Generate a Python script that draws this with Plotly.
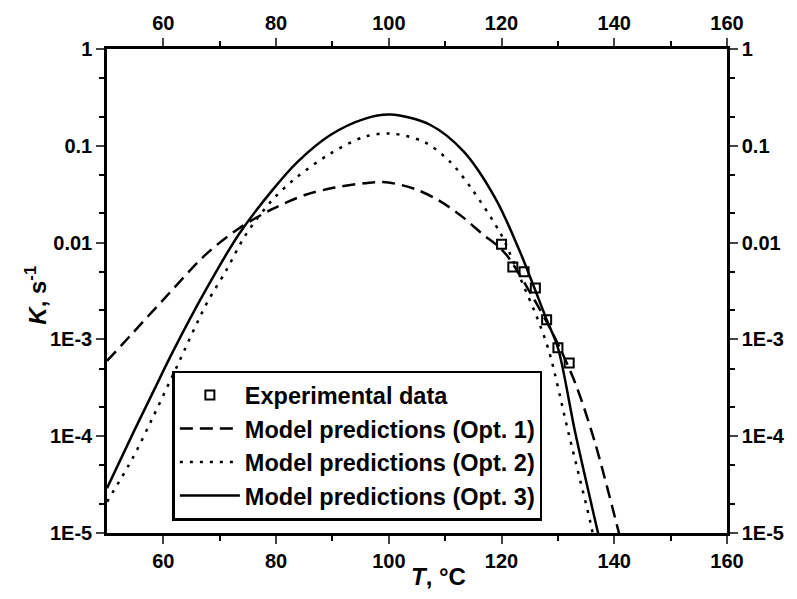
import plotly.graph_objects as go

# ---- data ----
T_exp = [120, 122, 124, 126, 128, 130, 132]
K_exp = [9.6e-3, 5.6e-3, 5.0e-3, 3.4e-3, 1.6e-3, 8.2e-4, 5.7e-4]

T_opt1 = [50, 54.6, 59.8, 67.6, 73.4, 79.2, 85.1, 90.4, 95.7, 99.5, 104.5, 109, 113.3, 116.8,
          119, 121, 125, 129.1, 133.1, 136.6, 140.7, 141.5]
K_opt1 = [6.0e-4, 1.17e-3, 2.5e-3, 7.6e-3, 0.014, 0.022, 0.031, 0.037, 0.041, 0.042, 0.036,
          0.027, 0.018, 0.012, 9.6e-3, 7.3e-3, 3.1e-3, 1.15e-3, 3.5e-4, 8.5e-5, 1.07e-5, 7e-6]

T_opt2 = [50, 54.6, 58.1, 62.3, 67.6, 71.1, 74.6, 79.2, 83.4, 89.6, 95.7, 100.3, 106.2, 110.8, 115,
          119, 120.3, 123.8, 126.1, 128.4, 131.9, 135.8, 136.5]
K_opt2 = [2.1e-5, 6e-5, 1.55e-4, 5.1e-4, 2.3e-3, 5.1e-3, 0.012, 0.027, 0.046, 0.083, 0.124, 0.134,
          0.11, 0.069, 0.034, 0.015, 0.011, 3.7e-3, 1.8e-3, 7.6e-4, 1.07e-4, 1.26e-5, 8e-6]

T_opt3 = [50, 54.6, 58.1, 61.6, 67.6, 73.4, 79.2, 83.9, 89.7, 95.7, 100.3, 107.3, 113.3, 119, 123.1,
          126, 128, 130, 133.1, 137, 137.5]
K_opt3 = [2.9e-5, 1.07e-4, 2.8e-4, 7.3e-4, 3.3e-3, 0.0122, 0.034, 0.069, 0.13, 0.19, 0.21, 0.165,
          0.087, 0.028, 8.5e-3, 3.2e-3, 1.6e-3, 8.2e-4, 1.07e-4, 1.07e-5, 8e-6]

x_ticks = [60, 80, 100, 120, 140, 160]
x_minor = [70, 90, 110, 130, 150]
y_tickvals = [1e-5, 1e-4, 1e-3, 1e-2, 1e-1, 1]
y_ticktext = ["1E-5", "1E-4", "1E-3", "0.01", "0.1", "1"]

FONT = "Liberation Sans, Arial, sans-serif"
LW = 2.5

fig = go.Figure()
fig.add_trace(go.Scatter(x=T_exp, y=K_exp, mode="markers", name="Experimental data",
                         marker=dict(symbol="square-open", size=9, color="black", line=dict(width=2, color="black")),
                         xaxis="x2", yaxis="y2"))
fig.add_trace(go.Scatter(x=T_opt1, y=K_opt1, mode="lines", name="Model predictions (Opt. 1)",
                         line=dict(color="black", width=LW, dash="13px,7px", shape="spline", smoothing=0.9)))
fig.add_trace(go.Scatter(x=T_opt2, y=K_opt2, mode="lines", name="Model predictions (Opt. 2)",
                         line=dict(color="black", width=LW, dash="3px,7px", shape="spline", smoothing=0.9)))
fig.add_trace(go.Scatter(x=T_opt3, y=K_opt3, mode="lines", name="Model predictions (Opt. 3)",
                         line=dict(color="black", width=LW, shape="spline", smoothing=0.9)))

tickfont = dict(family=FONT, size=20, color="black", weight="bold")
common_x = dict(range=[50, 160], tickvals=x_ticks, ticks="outside", ticklen=8, tickwidth=2,
                showline=True, linewidth=2.5, linecolor="black", showgrid=False, zeroline=False,
                tickfont=tickfont,
                minor=dict(tickvals=x_minor, ticks="outside", ticklen=5, tickwidth=2,
                           tickcolor="black", showgrid=False))
common_y = dict(type="log", range=[-5, 0], tickvals=y_tickvals, ticktext=y_ticktext, ticks="outside",
                ticklen=8, tickwidth=2, showline=True, linewidth=2.5, linecolor="black",
                showgrid=False, zeroline=False, tickfont=tickfont,
                minor=dict(ticks="outside", ticklen=5, tickwidth=1.5, tickcolor="black", showgrid=False))

fig.update_layout(
    width=797, height=599,
    margin=dict(l=107, r=64, t=47, b=66),
    paper_bgcolor="white", plot_bgcolor="white",
    font=dict(family=FONT, color="black"),
    xaxis=dict(**common_x, side="bottom", anchor="y"),
    xaxis2=dict(**common_x, side="top", overlaying="x", anchor="y"),
    yaxis=dict(**common_y, side="left", anchor="x"),
    yaxis2=dict(**common_y, side="right", overlaying="y", anchor="x"),
    showlegend=True,
    legend=dict(x=(173 - 107) / 626, y=(533 - 370) / 486, xanchor="left", yanchor="top",
                bgcolor="white", bordercolor="black", borderwidth=2.5,
                font=dict(family=FONT, size=23.5, color="black", weight="bold"), itemwidth=60, tracegroupgap=0),
    annotations=[
        dict(text="<i>T</i>, °C", xref="paper", yref="paper", x=(442 - 107) / 626, y=(533 - 577) / 486,
             showarrow=False, xanchor="center", yanchor="middle",
             font=dict(family=FONT, size=24, color="black", weight="bold")),
        dict(text="<i>K</i>, s<sup>-1</sup>", xref="paper", yref="paper", x=(35 - 107) / 626, y=(533 - 294) / 486,
             showarrow=False, xanchor="center", yanchor="middle", textangle=-90,
             font=dict(family=FONT, size=24, color="black", weight="bold")),
    ],
)

fig.write_html("out.html")
